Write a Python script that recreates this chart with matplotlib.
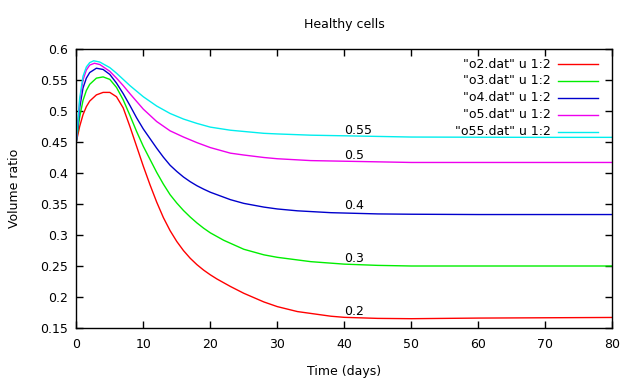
import matplotlib
matplotlib.use("Agg")
import matplotlib.pyplot as plt

# values (time in days, volume ratio)
t_o2 = [0, 0.5, 1, 1.5, 2, 3, 4, 5, 6, 7, 8, 9, 10, 11, 12, 13, 14, 15, 16, 17,
        18, 19, 20, 21, 22, 23, 25, 28, 30, 33, 38, 40, 45, 50, 60, 70, 80]
v_o2 = [0.45, 0.475, 0.494, 0.507, 0.516, 0.526, 0.530, 0.530, 0.523, 0.505, 0.475,
        0.443, 0.411, 0.381, 0.353, 0.328, 0.307, 0.2895, 0.2748, 0.2625, 0.2522,
        0.2434, 0.2358, 0.229, 0.223, 0.217, 0.206, 0.192, 0.1845, 0.1765, 0.169,
        0.1672, 0.1655, 0.165, 0.166, 0.1665, 0.167]

t_o3 = [0, 0.5, 1, 1.5, 2, 3, 4, 5, 6, 7, 8, 9, 10, 12, 13, 14, 15, 16, 17, 18,
        19, 20, 22, 25, 28, 30, 35, 40, 45, 50, 60, 70, 80]
v_o3 = [0.45, 0.49, 0.517, 0.533, 0.543, 0.553, 0.555, 0.551, 0.538, 0.518, 0.493,
        0.467, 0.443, 0.401, 0.382, 0.365, 0.3515, 0.3395, 0.329, 0.3195, 0.311,
        0.3035, 0.2915, 0.277, 0.268, 0.264, 0.257, 0.253, 0.251, 0.250, 0.250,
        0.250, 0.250]

t_o4 = [0, 0.5, 1, 1.5, 2, 3, 4, 5, 6, 7, 8, 9, 10, 12, 13, 14, 15, 16, 17, 18,
        19, 20, 23, 25, 28, 30, 33, 38, 45, 50, 60, 70, 80]
v_o4 = [0.45, 0.505, 0.537, 0.553, 0.562, 0.569, 0.567, 0.559, 0.545, 0.528, 0.509,
        0.489, 0.471, 0.440, 0.4255, 0.4125, 0.4025, 0.3935, 0.386, 0.3795, 0.374,
        0.369, 0.357, 0.351, 0.345, 0.342, 0.339, 0.336, 0.334, 0.3335, 0.333,
        0.333, 0.333]

t_o5 = [0, 0.5, 1, 1.5, 2, 2.7, 3.5, 5, 6, 7, 8, 10, 12, 14, 16, 18, 20, 23, 25,
        28, 30, 35, 40, 50, 60, 70, 80]
v_o5 = [0.45, 0.515, 0.550, 0.566, 0.574, 0.577, 0.575, 0.564, 0.553, 0.541, 0.528,
        0.503, 0.483, 0.468, 0.458, 0.449, 0.441, 0.432, 0.429, 0.425, 0.423, 0.420,
        0.419, 0.417, 0.417, 0.417, 0.417]

t_o55 = [0, 0.5, 1, 1.5, 2, 2.6, 3.5, 5, 6, 7, 8, 10, 12, 14, 16, 18, 20, 23, 25,
         28, 30, 35, 40, 50, 60, 70, 80]
v_o55 = [0.45, 0.52, 0.556, 0.571, 0.578, 0.581, 0.579, 0.570, 0.561, 0.551, 0.541,
         0.523, 0.508, 0.496, 0.487, 0.480, 0.474, 0.469, 0.467, 0.464, 0.463, 0.461,
         0.460, 0.458, 0.4577, 0.4575, 0.4575]

names = ['"o2.dat" u 1:2', '"o3.dat" u 1:2', '"o4.dat" u 1:2',
         '"o5.dat" u 1:2', '"o55.dat" u 1:2']
colors = ["#ff0000", "#00ee00", "#0000cc", "#ee00ee", "#00eeee"]

# curve annotations at day 40
label_text = ["0.2", "0.3", "0.4", "0.5", "0.55"]
label_y = [0.176, 0.262, 0.347, 0.429, 0.469]

plt.rcParams["font.family"] = "DejaVu Sans"
plt.rcParams["font.size"] = 9

fig = plt.figure(figsize=(6.36, 3.82), dpi=100)
ax = fig.add_axes([76.3 / 636, 1 - 328 / 382, 536 / 636, 279 / 382])

series = [(t_o2, v_o2), (t_o3, v_o3), (t_o4, v_o4), (t_o5, v_o5), (t_o55, v_o55)]
for (t, v), c in zip(series, colors):
    ax.plot(t, v, color=c, lw=1.0)

for txt, y in zip(label_text, label_y):
    ax.text(40, y, txt, ha="left", va="center")

# gnuplot style key: text right aligned, sample line after it
for i, (name, c) in enumerate(zip(names, colors)):
    ky = 1 - (64 - 49 + i * 16.9) / 279
    ax.text((551 - 76.3) / 536, ky, name, transform=ax.transAxes,
            ha="right", va="center")
    ax.plot([(558 - 76.3) / 536, (598 - 76.3) / 536], [ky, ky], color=c, lw=1.0,
            transform=ax.transAxes)

ax.set_xlim(0, 80)
ax.set_ylim(0.15, 0.6)
ax.set_xticks(range(0, 81, 10))
yt = [0.15, 0.2, 0.25, 0.3, 0.35, 0.4, 0.45, 0.5, 0.55, 0.6]
ax.set_yticks(yt)
ax.set_yticklabels(["%g" % y for y in yt])
ax.tick_params(direction="in", length=5, width=1, top=True, right=True)
ax.tick_params(axis="x", pad=7)
ax.tick_params(axis="y", pad=6)
for s in ax.spines.values():
    s.set_linewidth(1)

ax.set_title("Healthy cells", fontsize=9, pad=15)
ax.set_xlabel("Time (days)", labelpad=10)
ax.set_ylabel("Volume ratio", labelpad=14)

fig.savefig("out.png", dpi=100)
